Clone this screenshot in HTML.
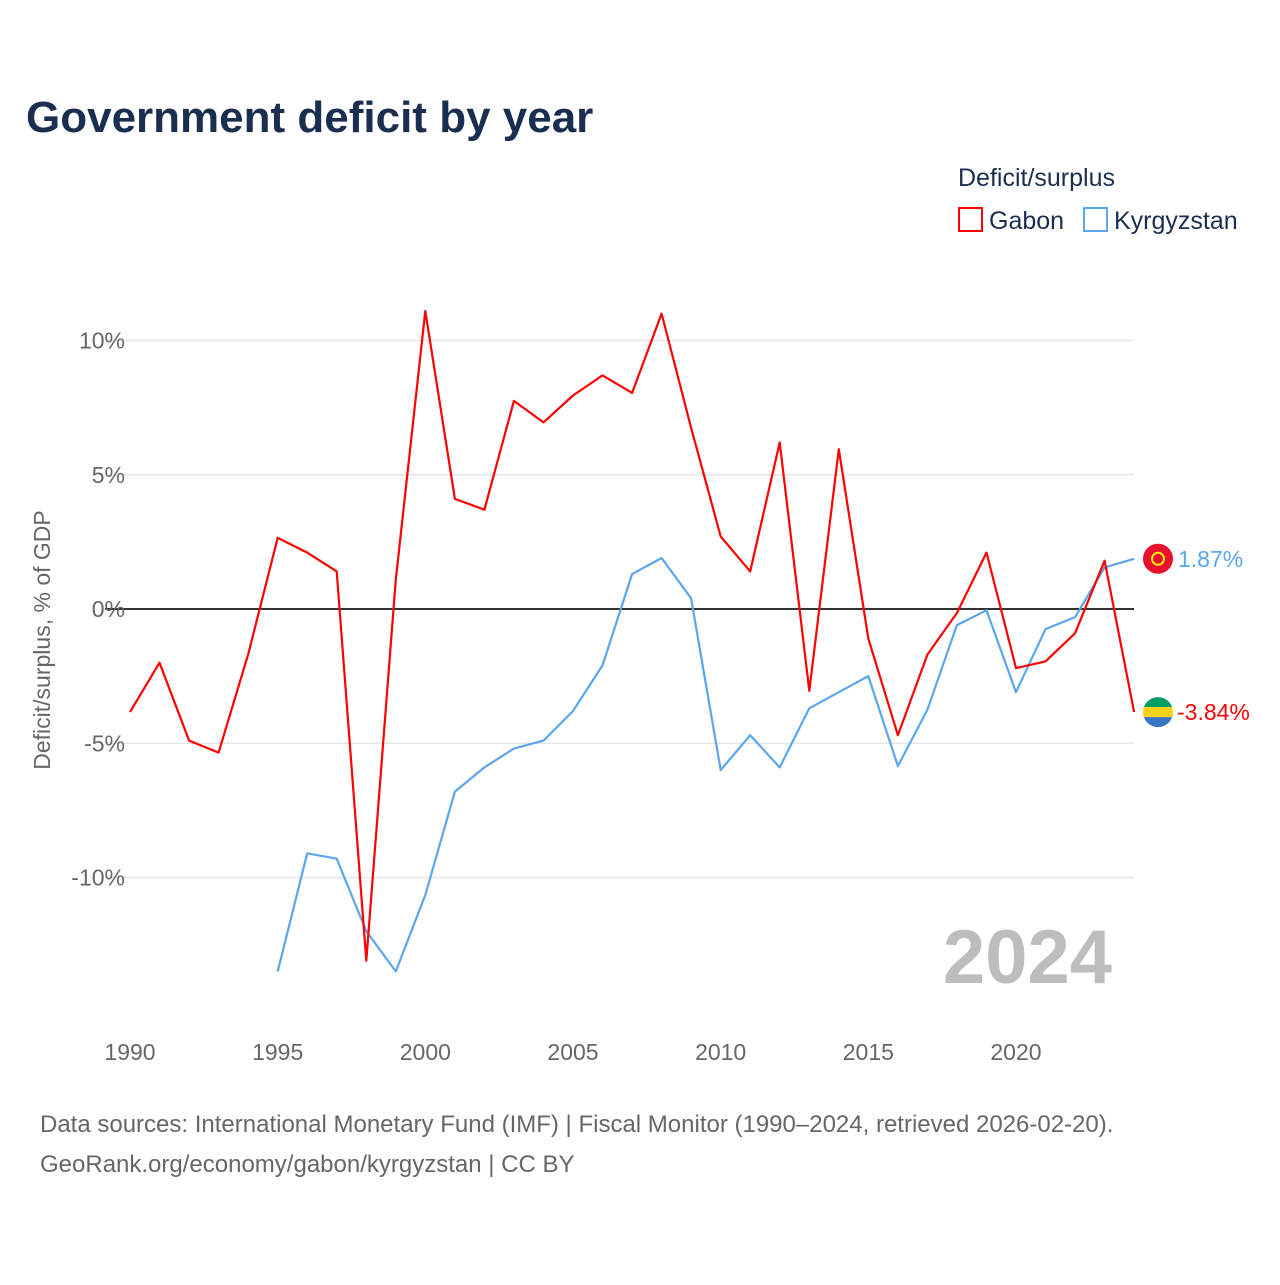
<!DOCTYPE html>
<html><head><meta charset="utf-8"><style>
body{margin:0;background:#fff;font-family:"Liberation Sans",sans-serif;}
</style></head><body>
<svg id="chart" width="1280" height="1280" xmlns="http://www.w3.org/2000/svg" font-family="Liberation Sans, sans-serif">
<rect width="1280" height="1280" fill="#fff"/>
<text x="26" y="132" font-size="44" font-weight="bold" fill="#1a2e4f">Government deficit by year</text>
<text x="958" y="186" font-size="25" fill="#1a2e4f">Deficit/surplus</text>
<g><rect x="959" y="208" width="23" height="23" fill="none" stroke="#f00" stroke-width="2"/><text x="989" y="229" font-size="25" fill="#1a2e4f">Gabon</text></g>
<g><rect x="1084" y="208" width="23" height="23" fill="none" stroke="#5ba6ee" stroke-width="2"/><text x="1114" y="229" font-size="25" fill="#1a2e4f">Kyrgyzstan</text></g>
<text transform="translate(50,640) rotate(-90)" text-anchor="middle" font-size="23" fill="#666">Deficit/surplus, % of GDP</text>
<text x="1112" y="983" text-anchor="end" font-size="76" font-weight="bold" fill="#bdbdbd">2024</text>
<g id="grid"></g><g id="series"></g>
<text x="40" y="1132" font-size="24" fill="#666">Data sources: International Monetary Fund (IMF) | Fiscal Monitor (1990–2024, retrieved 2026-02-20).</text>
<text x="40" y="1172" font-size="24" fill="#666">GeoRank.org/economy/gabon/kyrgyzstan | CC BY</text>
</svg>
<script>
const years=[];for(let y=1990;y<=2024;y++)years.push(y);
const gabon=[-3.84,-2.0,-4.9,-5.35,-1.7,2.65,2.1,1.4,-13.1,1.1,11.1,4.1,3.7,7.75,6.95,7.95,8.7,8.05,11.0,6.75,2.7,1.4,6.2,-3.05,5.95,-1.1,-4.7,-1.7,-0.15,2.1,-2.2,-1.95,-0.9,1.8,-3.84];
const kyrgyz=[null,null,null,null,null,-13.5,-9.1,-9.3,-12.0,-13.5,-10.65,-6.8,-5.9,-5.2,-4.9,-3.8,-2.1,1.3,1.9,0.4,-6.0,-4.7,-5.9,-3.7,-3.1,-2.5,-5.85,-3.75,-0.6,-0.05,-3.1,-0.75,-0.3,1.55,1.87];
const yTicks=[10,5,0,-5,-10];
const xTicks=[1990,1995,2000,2005,2010,2015,2020];
const NS="http://www.w3.org/2000/svg";
const X=y=>130+(y-1990)*29.533;
const Y=v=>609-v*26.85;
function mk(t,a,p){const e=document.createElementNS(NS,t);for(const k in a)e.setAttribute(k,a[k]);p.appendChild(e);return e;}
const grid=document.getElementById('grid'),ser=document.getElementById('series');
yTicks.forEach(v=>{
 const l=mk('line',{x1:105,x2:1134,y1:Y(v),y2:Y(v),stroke:v===0?'#333':'#e6e6e6','stroke-width':v===0?2:1.5},grid);
 
 
 const t=mk('text',{x:125,y:Y(v)+8,'text-anchor':'end','font-size':23,fill:'#666'},grid);
 
 
 t.textContent=v+'%';
});
xTicks.forEach(v=>{
 const t=mk('text',{x:X(v),y:1060,'text-anchor':'middle','font-size':23,fill:'#666'},grid);
 
 
 t.textContent=v;
});
function line(data,color,name){
 let d='';data.forEach((v,i)=>{if(v===null)return;d+=(d?'L':'M')+X(years[i]).toFixed(1)+','+Y(v).toFixed(1);});
 const p=mk('path',{d:d,fill:'none',stroke:color,'stroke-width':2.2,'stroke-linejoin':'round'},ser);
 
 
}
line(kyrgyz,'#5ba6ee','kyrgyzstan-line');
line(gabon,'#f00','gabon-line');
// end markers
const kv=kyrgyz[kyrgyz.length-1],gv=gabon[gabon.length-1];
const kf=mk('g',{},ser);


mk('circle',{cx:1158,cy:Y(kv),r:15,fill:'#e8112d'},kf);
mk('circle',{cx:1158,cy:Y(kv),r:6,fill:'none',stroke:'#ffef00','stroke-width':2},kf);
const kl=mk('text',{x:1178,y:Y(kv)+8,'font-size':23,fill:'#5ba6ee'},ser);


kl.textContent=kv.toFixed(2)+'%';
const gf=mk('g',{},ser);


const cy=Y(gv);
mk('clipPath',{id:'gc'},gf);mk('circle',{cx:1158,cy:cy,r:15},gf.firstChild);
mk('rect',{x:1143,y:cy-15,width:30,height:10,fill:'#009e60','clip-path':'url(#gc)'},gf);
mk('rect',{x:1143,y:cy-5,width:30,height:10,fill:'#fcd116','clip-path':'url(#gc)'},gf);
mk('rect',{x:1143,y:cy+5,width:30,height:10,fill:'#3a75c4','clip-path':'url(#gc)'},gf);
const gl=mk('text',{x:1177,y:cy+8,'font-size':23,fill:'#f00'},ser);


gl.textContent=gv.toFixed(2)+'%';
</script>
</body></html>
